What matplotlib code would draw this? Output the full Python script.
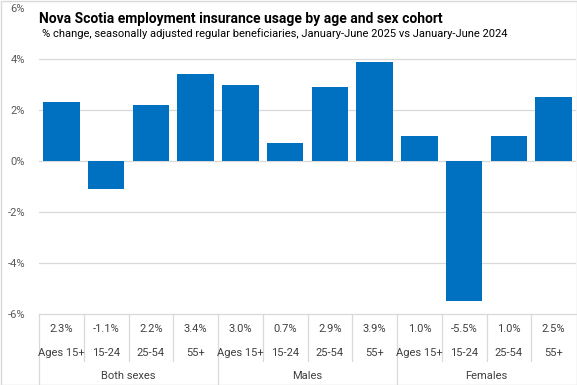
import matplotlib
matplotlib.use("Agg")
import matplotlib.pyplot as plt
import matplotlib.transforms as mtransforms
from matplotlib.patches import Rectangle

plt.rcParams['font.family'] = ['Roboto', 'DejaVu Sans']

groups = ["Both sexes", "Males", "Females"]
ages = ["Ages 15+", "15-24", "25-54", "55+"]
values = [2.3, -1.1, 2.2, 3.4, 3.0, 0.7, 2.9, 3.9, 1.0, -5.5, 1.0, 2.5]
yticks = [-6, -4, -2, 0, 2, 4, 6]

W, H = 577, 385
fig = plt.figure(figsize=(W / 100, H / 100), dpi=100)
ax_left, ax_right, ax_top, ax_bot = 39, 576, 8.0, 314
ax = fig.add_axes([ax_left / W, 1 - ax_bot / H, (ax_right - ax_left) / W, (ax_bot - ax_top) / H])

grid_c = "#d9d9d9"
text_c = "#404040"
n = len(values)
x = list(range(n))
ax.set_xlim(-0.5, n - 0.5)
ax.set_ylim(-6, 6)
for t in yticks[1:-1]:
    ax.axhline(t, color=grid_c, lw=0.9, zorder=0)
ax.bar(x, values, width=0.82, color="#0070C0", zorder=2)
ax.set_yticks(yticks)
ax.set_yticklabels([f"{t}%" for t in yticks], fontsize=8, color="#595959")
ax.tick_params(axis='y', length=0, pad=10)
ax.set_xticks([])
for s in ax.spines.values():
    s.set_visible(False)

# title with white background
fig.patches.append(Rectangle((ax_left / W, 1 - 44 / H), (ax_right - 2 - ax_left) / W, 38 / H,
                             transform=fig.transFigure, facecolor="white", edgecolor="none", zorder=3))
fig.text(39 / W, 1 - 19 / H, "Nova Scotia employment insurance usage by age and sex cohort",
         fontsize=10, fontweight="bold", color="black", va="center", ha="left", zorder=4)
fig.text(42 / W, 1 - 34 / H,
         "% change, seasonally adjusted regular beneficiaries, January-June 2025 vs January-June 2024",
         fontsize=8, color="black", va="center", ha="left", zorder=4)

# data table
tr = mtransforms.blended_transform_factory(ax.transData, fig.transFigure)
def fy(p):
    return 1 - p / H

def vline(xv, y0, y1):
    ax.plot([xv, xv], [fy(y0), fy(y1)], transform=tr, color=grid_c, lw=0.9, clip_on=False)

ax.plot([-0.5, n - 0.5], [fy(ax_bot), fy(ax_bot)], transform=tr, color=grid_c, lw=0.9, clip_on=False)
vline(-0.5, ax_bot, 384)
for i in range(1, n):
    if i % 4 == 0:
        vline(i - 0.5, ax_bot, 384)
    else:
        vline(i - 0.5, ax_bot, 361)
for i, v in enumerate(values):
    ax.text(i, fy(329), f"{v:.1f}%", transform=tr, ha="center", va="center", fontsize=8, color=text_c)
    ax.text(i, fy(353), ages[i % 4], transform=tr, ha="center", va="center", fontsize=8, color=text_c)
for g, name in enumerate(groups):
    ax.text(g * 4 + 1.5, fy(376), name, transform=tr, ha="center", va="center", fontsize=8, color=text_c)

# figure border
fig.patches.append(Rectangle((0.5 / W, 0.5 / H), (W - 1) / W, (H - 1) / H, transform=fig.transFigure,
                             facecolor="none", edgecolor=grid_c, lw=1, zorder=5))

fig.savefig("out.png", dpi=100)
